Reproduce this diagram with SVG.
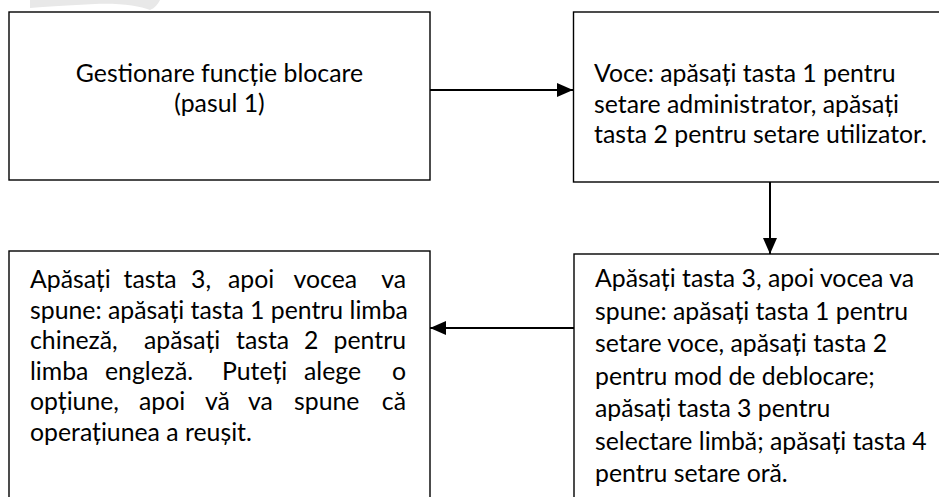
<svg xmlns="http://www.w3.org/2000/svg" width="939" height="497" viewBox="0 0 939 497">
<style>
.box{fill:#ffffff;stroke:#000000;stroke-width:1.4}
.t{font-family:Lato,"Liberation Sans","DejaVu Sans",sans-serif;font-size:24.8px;fill:#000000}
.c{text-anchor:middle}
.e{text-anchor:end}
.conn{stroke:#000000;stroke-width:2;fill:none}
</style>
<defs>
<marker id="ah" markerWidth="16" markerHeight="14" refX="16" refY="7" orient="auto" markerUnits="userSpaceOnUse">
<path d="M0,0 L16,7 L0,14 Z" fill="#000000"/>
</marker>
</defs>
<rect width="939" height="497" fill="#ffffff"/>
<path d="M30,0 L160,0 C158,4 155,8 150,10 C140,6 120,3 95,4 C70,5 45,7 30,8 Z" fill="#e8e8e8"/>
<g id="node-1">
<rect class="box" x="9" y="12" width="421" height="168"/>
<text class="t c" x="219.5" y="82">Gestionare funcție blocare</text>
<text class="t c" x="219.5" y="112">(pasul 1)</text>
</g>
<g id="node-2">
<rect class="box" x="573.5" y="12" width="380" height="170"/>
<text class="t" x="594" y="82">Voce: apăsați tasta 1 pentru</text>
<text class="t" x="594" y="113">setare administrator, apăsați</text>
<text class="t" x="594" y="143">tasta 2 pentru setare utilizator.</text>
</g>
<g id="node-3">
<rect class="box" x="574" y="254" width="380" height="260"/>
<text class="t" x="595" y="287">Apăsați tasta 3, apoi vocea va</text>
<text class="t" x="595" y="319.5">spune: apăsați tasta 1 pentru</text>
<text class="t" x="595" y="352">setare voce, apăsați tasta 2</text>
<text class="t" x="595" y="384.5">pentru mod de deblocare;</text>
<text class="t" x="595" y="417">apăsați tasta 3 pentru</text>
<text class="t" x="595" y="449.5">selectare limbă; apăsați tasta 4</text>
<text class="t" x="595" y="482">pentru setare oră.</text>
</g>
<g id="node-4">
<rect class="box" x="9" y="251" width="421" height="260"/>
<text class="t" y="288"><tspan x="30">Apăsați</tspan><tspan x="123.5">tasta</tspan><tspan x="191">3,</tspan><tspan x="228">apoi</tspan><tspan x="293.5">vocea</tspan><tspan x="406" text-anchor="end">va</tspan></text>
<text class="t" x="30" y="318.5">spune: apăsați tasta 1 pentru limba</text>
<text class="t" y="349"><tspan x="30">chineză,</tspan><tspan x="144">apăsați</tspan><tspan x="236">tasta</tspan><tspan x="304">2</tspan><tspan x="406" text-anchor="end">pentru</tspan></text>
<text class="t" y="379.5"><tspan x="30">limba</tspan><tspan x="105">engleză.</tspan><tspan x="222">Puteți</tspan><tspan x="304">alege</tspan><tspan x="406" text-anchor="end">o</tspan></text>
<text class="t" y="410"><tspan x="30">opțiune,</tspan><tspan x="139">apoi</tspan><tspan x="205">vă</tspan><tspan x="248">va</tspan><tspan x="294">spune</tspan><tspan x="406" text-anchor="end">că</tspan></text>
<text class="t" x="30" y="440.5">operațiunea a reușit.</text>
</g>
<g id="connectors">
<line class="conn" x1="430" y1="90" x2="573" y2="90" marker-end="url(#ah)"/>
<line class="conn" x1="770" y1="182" x2="770" y2="254" marker-end="url(#ah)"/>
<line class="conn" x1="574" y1="328" x2="430" y2="328" marker-end="url(#ah)"/>
</g>
</svg>
